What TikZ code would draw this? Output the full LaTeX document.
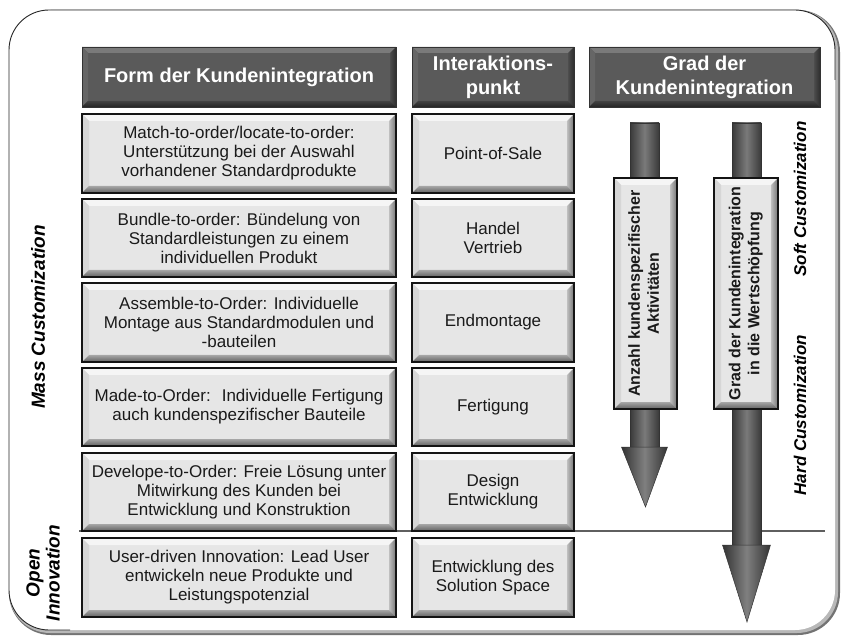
\documentclass[tikz,border=0pt]{standalone}
\usepackage{fontspec}
\setmainfont{Liberation Sans}
\usetikzlibrary{calc}

\definecolor{facelight}{HTML}{E6E6E6}
\definecolor{facedark}{HTML}{5A5A5A}
\definecolor{inktext}{HTML}{1A1A1A}
\definecolor{sepgray}{HTML}{5F5F5F}
\definecolor{shaftedge}{HTML}{3A3A3A}
\definecolor{shaftmid}{HTML}{7A7A7A}

\newcommand\arrowtextfont{\bfseries\fontsize{16}{19}\selectfont}

\tikzset{
  % bevelled face: #1 width, #2 top, #3 left, #4/#5 right (inner/outer), #6/#7 bottom (inner/outer)
  bevel/.style n args={7}{
    path picture={
      \path (path picture bounding box.north west) coordinate (bvnw)
            (path picture bounding box.north east) coordinate (bvne)
            (path picture bounding box.south west) coordinate (bvsw)
            (path picture bounding box.south east) coordinate (bvse);
      \fill[#2] (bvnw) -- (bvne) -- ($(bvne)+(-#1,-#1)$) -- ($(bvnw)+(#1,-#1)$) -- cycle;
      \fill[#3] (bvnw) -- ($(bvnw)+(#1,-#1)$) -- ($(bvsw)+(#1,#1)$) -- (bvsw) -- cycle;
      \shade[left color=#4, right color=#5] (bvne) -- (bvse) -- ($(bvse)+(-#1,#1)$) -- ($(bvne)+(-#1,-#1)$) -- cycle;
      \shade[top color=#6, bottom color=#7] (bvsw) -- ($(bvsw)+(#1,#1)$) -- ($(bvse)+(-#1,#1)$) -- (bvse) -- cycle;
    }},
  lightbox/.style={draw=black!92, line width=1.1pt, fill=facelight, inner sep=0pt,
    align=center, text=inktext,
    font=\fontsize{17}{19}\selectfont,
    bevel={7pt}{white!96!black}{black!16}{black!25}{black!55}{black!35}{black!62}},
  headbox/.style={draw=black!80, line width=0.6pt, fill=facedark, inner sep=0pt,
    align=center, text=white,
    font=\bfseries\fontsize{20}{24}\selectfont,
    minimum height=60pt,
    bevel={6pt}{black!52}{black!60}{black!70}{black!82}{black!74}{black!86}},
  leftcol/.style={lightbox, minimum width=314pt},
  midcol/.style={lightbox, minimum width=162pt},
  sidelabel/.style={rotate=90, align=center, text=black,
    font=\bfseries\itshape\fontsize{19}{20}\selectfont},
  typelabel/.style={rotate=90, text=black,
    font=\bfseries\itshape\fontsize{17}{20}\selectfont},
  shaft/.style={left color=shaftedge, right color=shaftedge, middle color=shaftmid,
    draw=black!80, line width=0.5pt},
  arrowhead/.style={left color=black!80, right color=black!80, middle color=black!50,
    draw=black!80, line width=0.5pt},
  sepline/.style={draw=sepgray, line width=2pt}
}

\begin{document}
\begin{tikzpicture}[x=1pt,y=-1pt]
\useasboundingbox (0,0) rectangle (841,636);

% outer frame with its shadow on the lower right
\fill[black!55, rounded corners=42pt] (9,10) rectangle (840,635);
\fill[black!28, rounded corners=41pt] (9,10) rectangle (838,633);
\fill[white, rounded corners=40pt] (9,10) rectangle (835,630);
\draw[black!85, line width=0.9pt, rounded corners=40pt]
  (70,630) -- (9,630) -- (9,10) -- (835,10) -- (835,80);

% line between mass customization and open innovation
\coordinate (sepL) at (79,531);
\coordinate (sepR) at (825,531);
\draw[sepline] (sepL) -- (sepR);

% column headers
\node[headbox, minimum width=314pt] (h1) at (239,77) {Form der Kundenintegration};
\node[headbox, minimum width=162pt] (h2) at (493,77) {Interaktions-\\punkt};
\node[headbox, minimum width=231pt] (h3) at (704.5,77) {Grad der\\Kundenintegration};

% forms of customer integration
\node[leftcol, minimum height=79pt] (f1) at (239,153.5)
  {Match-to-order/locate-to-order:\\Unterstützung bei der Auswahl\\vorhandener Standardprodukte};
\node[leftcol, minimum height=78pt] (f2) at (239,238)
  {Bundle-to-order: Bündelung von\\Standardleistungen zu einem\\individuellen Produkt};
\node[leftcol, minimum height=79pt] (f3) at (239,322.5)
  {Assemble-to-Order: Individuelle\\Montage aus Standardmodulen und\\-bauteilen};
\node[leftcol, minimum height=78pt] (f4) at (239,407)
  {Made-to-Order:~ Individuelle Fertigung\\auch kundenspezifischer Bauteile};
\node[leftcol, minimum height=78pt] (f5) at (239,492)
  {Develope-to-Order: Freie Lösung unter\\Mitwirkung des Kunden bei\\Entwicklung und Konstruktion};
\node[leftcol, minimum height=79pt] (f6) at (239,577.5)
  {User-driven Innovation: Lead User\\entwickeln neue Produkte und\\Leistungspotenzial};

% interaction points
\node[midcol, minimum height=79pt] (p1) at (493,153.5) {Point-of-Sale};
\node[midcol, minimum height=78pt] (p2) at (493,238) {Handel\\Vertrieb};
\node[midcol, minimum height=79pt] (p3) at (493,322.5) {Endmontage};
\node[midcol, minimum height=78pt] (p4) at (493,407) {Fertigung};
\node[midcol, minimum height=78pt] (p5) at (493,492) {Design\\Entwicklung};
\node[midcol, minimum height=79pt] (p6) at (493,577.5) {Entwicklung des\\Solution Space};

% degree arrows: shaft, head, then the label box on top
\coordinate (a1top) at (644.5,123);
\coordinate (a1neck) at (644.5,447);
\coordinate (a1tip) at (645.5,507);
\coordinate (a2top) at (746.5,123);
\coordinate (a2neck) at (746.5,545);
\coordinate (a2tip) at (747,622);

\shade[shaft] ($(a1top)+(-14.5pt,0pt)$) rectangle ($(a1neck)+(14.5pt,0pt)$);
\shade[arrowhead] ($(a1neck)+(-23pt,0pt)$) -- ($(a1neck)+(23pt,0pt)$) -- (a1tip) -- cycle;
\shade[shaft] ($(a2top)+(-14.5pt,0pt)$) rectangle ($(a2neck)+(14.5pt,0pt)$);
\shade[arrowhead] ($(a2neck)+(-24pt,0pt)$) -- ($(a2neck)+(24pt,0pt)$) -- (a2tip) -- cycle;

\node[lightbox, minimum width=63pt, minimum height=231pt] (g1) at (645.5,293.5)
  {\rotatebox{90}{\arrowtextfont\begin{tabular}{@{}c@{}}Anzahl kundenspezifischer\\Aktivitäten\end{tabular}}};
\node[lightbox, minimum width=64pt, minimum height=231pt] (g2) at (746,293.5)
  {\rotatebox{90}{\arrowtextfont\begin{tabular}{@{}c@{}}Grad der Kundenintegration\\in die Wertschöpfung\end{tabular}}};

% side labels
\node[typelabel] (soft) at (800,199) {Soft Customization};
\node[typelabel] (hard) at (800,415) {Hard Customization};
\node[sidelabel] (mass) at (38,317) {Mass Customization};
\node[sidelabel] (open) at (43,573) {Open\\Innovation};
\end{tikzpicture}
\end{document}
